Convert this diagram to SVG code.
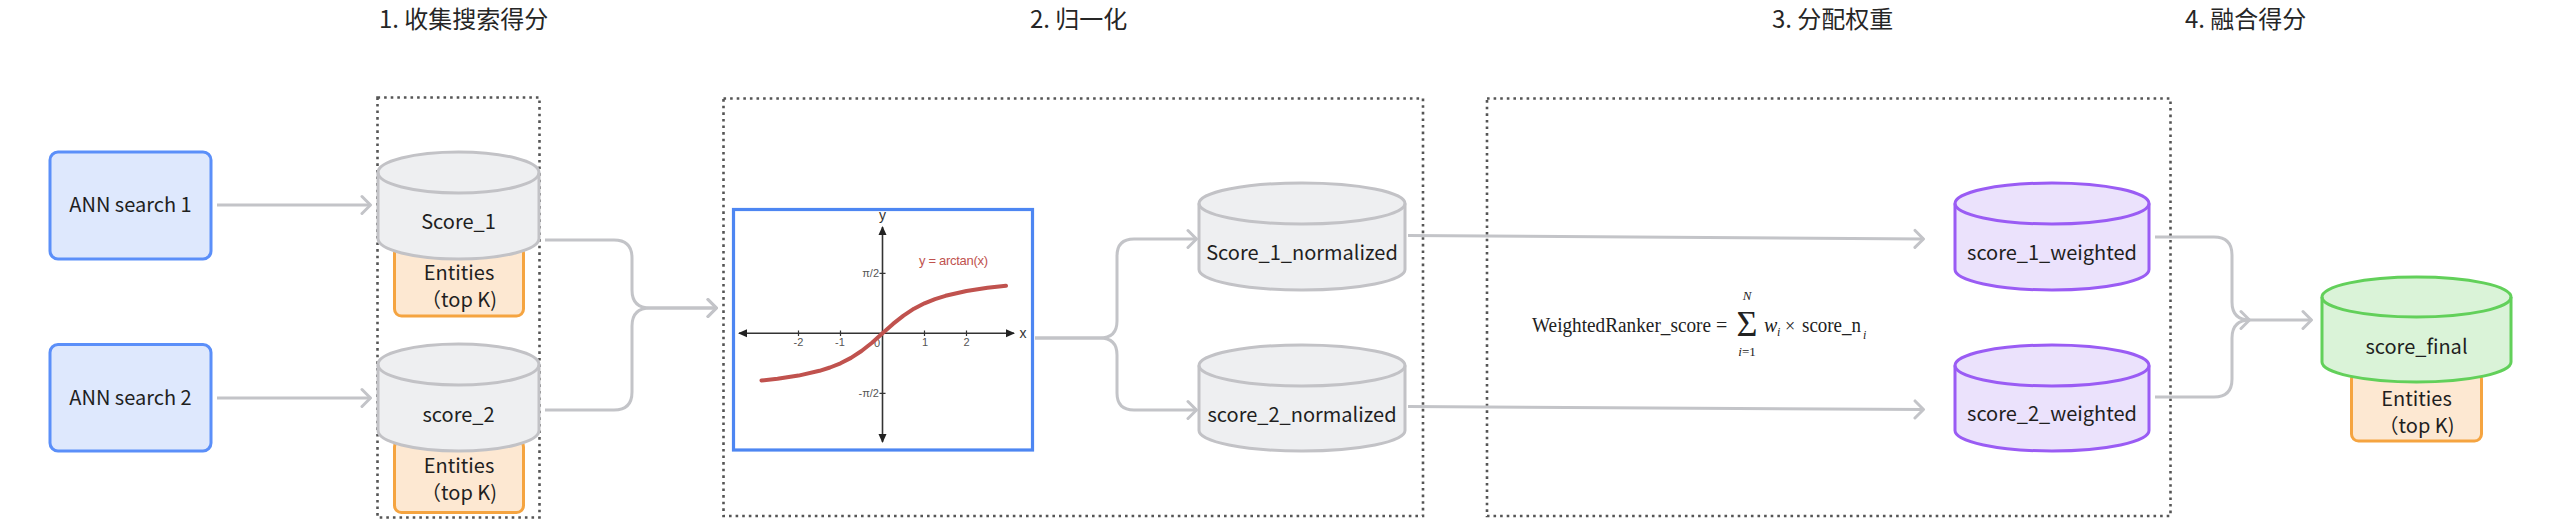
<svg xmlns="http://www.w3.org/2000/svg" width="2560" height="528" viewBox="0 0 2560 528">
<style>
.title{font-family:"Noto Sans CJK SC","Noto Sans",sans-serif;font-size:24px;fill:#262626}
.lbl{font-family:"Noto Sans CJK SC","Noto Sans",sans-serif;font-size:20px;fill:#1f1f1f;text-anchor:middle}
.grp{fill:none;stroke:#555;stroke-width:2.6;stroke-dasharray:2.6 4}
.ann{fill:#dee8fd;stroke:#5b8ff9;stroke-width:3}
.ent{fill:#fde8d2;stroke:#f5a440;stroke-width:3}
.cg{fill:#eeeff1;stroke:#c2c2c6;stroke-width:3}
.cp{fill:#ebe2fc;stroke:#9a5cf4;stroke-width:3}
.cgr{fill:#daf3d8;stroke:#62d05a;stroke-width:3}
.rim{fill:none}
.conn{fill:none;stroke:#c3c4c8;stroke-width:3;marker-end:url(#arr)}
.ax{stroke:#333;stroke-width:1.6;fill:none}
.tk{font-family:"Liberation Sans",Arial,sans-serif;font-size:11px;fill:#555}
.math{font-family:"Liberation Serif","DejaVu Serif",serif;fill:#222}
</style>
<defs>
<marker id="arr" markerWidth="14" markerHeight="22" refX="11" refY="11" orient="auto" markerUnits="userSpaceOnUse">
<path d="M2,2.5 L10.5,11 L2,19.5" fill="none" stroke="#c3c4c8" stroke-width="3" stroke-linecap="round" stroke-linejoin="round"/>
</marker>
<marker id="tri" markerWidth="10" markerHeight="10" refX="8" refY="5" orient="auto" markerUnits="userSpaceOnUse">
<path d="M0,1 L9,5 L0,9 Z" fill="#222"/>
</marker>
</defs>
<rect width="2560" height="528" fill="#fff"/>

<g id="titles">
<text class="title" x="379" y="28">1. 收集搜索得分</text>
<text class="title" x="1030" y="28">2. 归一化</text>
<text class="title" x="1772" y="28">3. 分配权重</text>
<text class="title" x="2185" y="28">4. 融合得分</text>
</g>

<g id="groups">
<rect id="group1" class="grp" x="377.5" y="97.5" width="162" height="420"/>
<rect id="group2" class="grp" x="723.5" y="98.5" width="699.5" height="417.5"/>
<rect id="group3" class="grp" x="1487" y="98.5" width="683.5" height="417.5"/>
</g>

<g id="connectors">
<path class="conn" d="M217,205 H371"/>
<path class="conn" d="M217,398 H371"/>
<path class="conn" d="M545,240 H614 Q632,240 632,258 V290 Q632,308 650,308 H717"/>
<path class="conn" d="M545,410 H614 Q632,410 632,392 V326 Q632,308 650,308 H717"/>
<path class="conn" d="M1035,338 H1100 Q1117,338 1117,321 V256 Q1117,239 1134,239 H1197"/>
<path class="conn" d="M1035,338 H1100 Q1117,338 1117,355 V393 Q1117,410 1134,410 H1197"/>
<path class="conn" d="M1408,235.5 L1924,239"/>
<path class="conn" d="M1408,406.5 L1924,409.5"/>
<path class="conn" d="M2155,237 H2214 Q2232,237 2232,255 V302 Q2232,320 2250,320 H2312"/>
<path class="conn" d="M2155,397 H2214 Q2232,397 2232,379 V338 Q2232,320 2250,320"/>
</g>

<g id="ann1">
<rect class="ann" x="50" y="152" width="161" height="107" rx="8"/>
<text class="lbl" x="130.5" y="212">ANN search 1</text>
</g>
<g id="ann2">
<rect class="ann" x="50" y="344.5" width="161" height="106.5" rx="8"/>
<text class="lbl" x="130.5" y="405">ANN search 2</text>
</g>

<g id="entities1">
<rect class="ent" x="394.5" y="246" width="129" height="70" rx="7"/>
<text class="lbl" x="459" y="280">Entities</text>
<text class="lbl" x="459" y="307">（top K)</text>
</g>
<g id="score1">
<path class="cg" d="M378,172.5 A80.5,20.5 0 0 1 539,172.5 V238.5 A80.5,20.5 0 0 1 378,238.5 Z"/>
<path class="cg rim" d="M378,172.5 A80.5,20.5 0 0 0 539,172.5"/>
<text class="lbl" x="458.5" y="229">Score_1</text>
</g>

<g id="entities2">
<rect class="ent" x="394.5" y="440" width="129" height="72.5" rx="7"/>
<text class="lbl" x="459" y="473">Entities</text>
<text class="lbl" x="459" y="500">（top K)</text>
</g>
<g id="score2">
<path class="cg" d="M378,364.5 A80.5,20.5 0 0 1 539,364.5 V430.5 A80.5,20.5 0 0 1 378,430.5 Z"/>
<path class="cg rim" d="M378,364.5 A80.5,20.5 0 0 0 539,364.5"/>
<text class="lbl" x="458.5" y="422">score_2</text>
</g>

<g id="arctan">
<rect x="733.5" y="209.5" width="299" height="240.5" fill="#fff" stroke="#4d86f2" stroke-width="3.2"/>
<line class="ax" x1="882.5" y1="333.3" x2="1014" y2="333.3" marker-end="url(#tri)"/>
<line class="ax" x1="882.5" y1="333.3" x2="739" y2="333.3" marker-end="url(#tri)"/>
<line class="ax" x1="882.5" y1="333.3" x2="882.5" y2="227" marker-end="url(#tri)"/>
<line class="ax" x1="882.5" y1="333.3" x2="882.5" y2="442" marker-end="url(#tri)"/>
<path d="M798.5,330.5 V336 M840.5,330.5 V336 M924.5,330.5 V336 M966.5,330.5 V336 M879.5,273.3 H885.5 M879.5,393.3 H885.5" stroke="#333" stroke-width="1.2"/>
<text class="tk" x="798.5" y="346" text-anchor="middle">-2</text>
<text class="tk" x="840" y="346" text-anchor="middle">-1</text>
<text class="tk" x="877" y="347" text-anchor="middle">0</text>
<text class="tk" x="925" y="346" text-anchor="middle">1</text>
<text class="tk" x="966.5" y="346" text-anchor="middle">2</text>
<text class="tk" x="879" y="277" text-anchor="end">π/2</text>
<text class="tk" x="879" y="397" text-anchor="end">-π/2</text>
<text class="tk" x="882.5" y="220" text-anchor="middle" style="font-size:14px;fill:#333">y</text>
<text class="tk" x="1023" y="338" text-anchor="middle" style="font-size:14px;fill:#333">x</text>
<polyline fill="none" stroke="#c0524e" stroke-width="4" stroke-linejoin="round" stroke-linecap="round" points="761.5,380.5 777.5,378.8 798.5,375.6 819.5,370.8 830,367.5 840.5,363.3 851,357.9 861.5,351 872,342.7 882.5,333.3 893,323.9 903.5,315.6 914,308.7 924.5,303.3 935,299.1 945.5,295.8 966.5,291 987.5,287.8 1006,285.8"/>
<text x="919" y="265" font-family="Liberation Sans, Arial, sans-serif" font-size="13" fill="#c0524e" textLength="69">y = arctan(x)</text>
</g>

<g id="norm1">
<path class="cg" d="M1199,203.5 A103,20.5 0 0 1 1405,203.5 V269.5 A103,20.5 0 0 1 1199,269.5 Z"/>
<path class="cg rim" d="M1199,203.5 A103,20.5 0 0 0 1405,203.5"/>
<text class="lbl" x="1302" y="260">Score_1_normalized</text>
</g>
<g id="norm2">
<path class="cg" d="M1199,365.5 A103,20.5 0 0 1 1405,365.5 V430.5 A103,20.5 0 0 1 1199,430.5 Z"/>
<path class="cg rim" d="M1199,365.5 A103,20.5 0 0 0 1405,365.5"/>
<text class="lbl" x="1302" y="422">score_2_normalized</text>
</g>

<g id="formula">
<text class="math" x="1532" y="332" font-size="20" textLength="179" lengthAdjust="spacingAndGlyphs">WeightedRanker_score</text>
<text class="math" x="1716" y="332" font-size="20">=</text>
<text class="math" x="1747" y="336" font-size="36" text-anchor="middle">Σ</text>
<text class="math" x="1747" y="300" font-size="13" font-style="italic" text-anchor="middle">N</text>
<text class="math" x="1747" y="356" font-size="13" text-anchor="middle"><tspan font-style="italic">i</tspan>=1</text>
<text class="math" x="1764" y="332" font-size="20" font-style="italic">w</text>
<text class="math" x="1777" y="336" font-size="12" font-style="italic">i</text>
<text class="math" x="1785" y="332" font-size="18">×</text>
<text class="math" x="1802" y="332" font-size="20" textLength="59" lengthAdjust="spacingAndGlyphs">score_n</text>
<text class="math" x="1863" y="339" font-size="12" font-style="italic">i</text>
</g>

<g id="weighted1">
<path class="cp" d="M1955,203.5 A97,20.5 0 0 1 2149,203.5 V269.5 A97,20.5 0 0 1 1955,269.5 Z"/>
<path class="cp rim" d="M1955,203.5 A97,20.5 0 0 0 2149,203.5"/>
<text class="lbl" x="2052" y="260">score_1_weighted</text>
</g>
<g id="weighted2">
<path class="cp" d="M1955,365.5 A97,20.5 0 0 1 2149,365.5 V430.5 A97,20.5 0 0 1 1955,430.5 Z"/>
<path class="cp rim" d="M1955,365.5 A97,20.5 0 0 0 2149,365.5"/>
<text class="lbl" x="2052" y="421">score_2_weighted</text>
</g>

<g id="entities3">
<rect class="ent" x="2351.5" y="372" width="130" height="69" rx="7"/>
<text class="lbl" x="2416.5" y="406">Entities</text>
<text class="lbl" x="2416.5" y="433">（top K)</text>
</g>
<g id="final">
<path class="cgr" d="M2322,297 A94.5,20 0 0 1 2511,297 V362 A94.5,20 0 0 1 2322,362 Z"/>
<path class="cgr rim" d="M2322,297 A94.5,20 0 0 0 2511,297"/>
<text class="lbl" x="2416.5" y="354">score_final</text>
</g>
</svg>
